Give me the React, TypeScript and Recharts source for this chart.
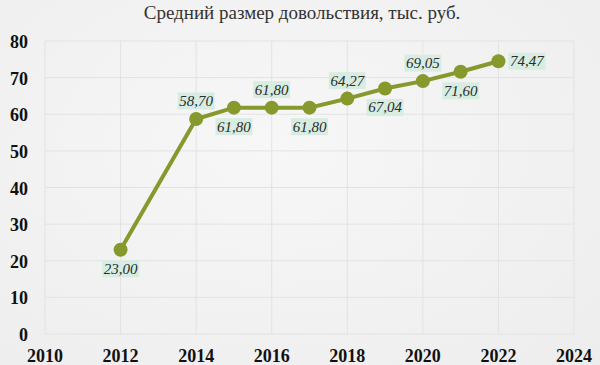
import React from 'react';
import { LineChart, Line, XAxis, YAxis, CartesianGrid, LabelList } from 'recharts';

const years = [2012, 2014, 2015, 2016, 2017, 2018, 2019, 2020, 2021, 2022];
const allowance = [23.0, 58.7, 61.8, 61.8, 61.8, 64.27, 67.04, 69.05, 71.6, 74.47];
// where each value label sits relative to its point
const labelSide = ['below', 'above', 'below', 'above', 'below', 'above', 'below', 'above', 'below', 'right'];
const xTicks = [2010, 2012, 2014, 2016, 2018, 2020, 2022, 2024];
const yTicks = [0, 10, 20, 30, 40, 50, 60, 70, 80];

const data = years.map((year, i) => ({ year, value: allowance[i] }));

const fmt = (v: number) => v.toFixed(2).replace('.', ',');
const serif = "'Liberation Serif', 'DejaVu Serif', serif";

const ValueLabel = (props: any) => {
  const { x, y, value, index } = props;
  const side = labelSide[index];
  const w = 37;
  const h = 17;
  let cx = x;
  let cy = y;
  if (side === 'above') cy = y - 18;
  if (side === 'below') cy = y + 19;
  if (side === 'right') cx = x + 10 + w / 2;
  return (
    <g>
      <rect x={cx - w / 2} y={cy - h / 2} width={w} height={h} fill="#d8ede2" />
      <text x={cx} y={cy + 5} textAnchor="middle" style={{ fontFamily: serif, fontStyle: 'italic', fontSize: 15 }} fill="#2b2b2b">
        {fmt(value)}
      </text>
    </g>
  );
};

const XTick = (props: any) => {
  const { x, y, payload } = props;
  return (
    <text x={x} y={y + 14} textAnchor="middle" style={{ fontFamily: serif, fontWeight: 700, fontSize: 18 }} fill="#111">
      {payload.value}
    </text>
  );
};

const YTick = (props: any) => {
  const { x, y, payload } = props;
  return (
    <text x={x} y={y + 7} textAnchor="end" style={{ fontFamily: serif, fontWeight: 700, fontSize: 18 }} fill="#111">
      {payload.value}
    </text>
  );
};

export default function App() {
  return (
    <div
      style={{
        position: 'absolute',
        left: 0,
        top: 0,
        width: 600,
        height: 365,
        background: 'radial-gradient(ellipse at 45% 40%, #f7f7f7 0%, #ededed 100%)',
      }}
    >
      <div
        style={{
          position: 'absolute',
          top: 2,
          left: 0,
          width: 604,
          textAlign: 'center',
          fontFamily: serif,
          fontSize: 19,
          color: '#333',
        }}
      >
        Средний размер довольствия, тыс. руб.
      </div>
      <LineChart width={600} height={365} data={data} margin={{ top: 41, right: 26, left: 0, bottom: 0 }}>
        <CartesianGrid stroke="#e2e2e2" strokeWidth={1} />
        <XAxis
          dataKey="year"
          type="number"
          domain={[2010, 2024]}
          ticks={xTicks}
          axisLine={false}
          tickLine={false}
          height={31}
          tickMargin={8}
          tick={<XTick />}
        />
        <YAxis
          type="number"
          domain={[0, 80]}
          ticks={yTicks}
          axisLine={false}
          tickLine={false}
          width={45}
          tickMargin={11}
          tick={<YTick />}
        />
        <Line
          dataKey="value"
          stroke="#86992c"
          strokeWidth={4}
          dot={{ r: 7, fill: '#86992c', stroke: '#86992c', strokeWidth: 0 }}
          isAnimationActive={false}
        >
          <LabelList dataKey="value" content={<ValueLabel />} />
        </Line>
      </LineChart>
    </div>
  );
}
